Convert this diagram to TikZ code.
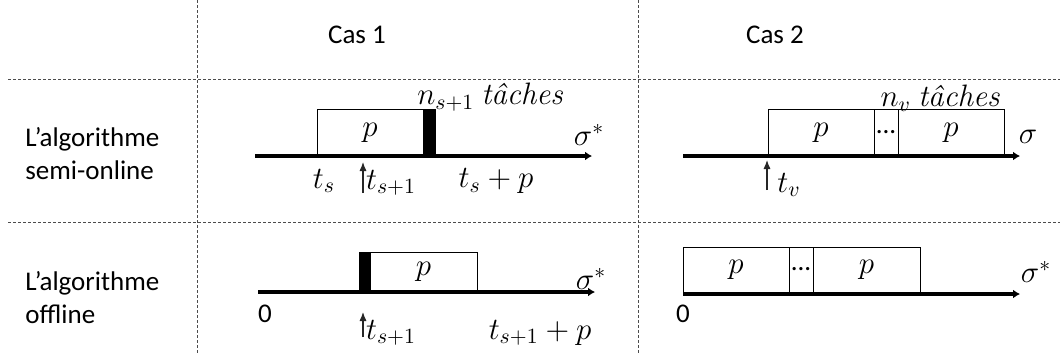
\RequirePackage{fix-cm}
\documentclass[tikz,border=0pt]{standalone}
\usepackage{fontspec}
\setmainfont{Carlito}
\newfontfamily\lmr{Latin Modern Roman}
\usetikzlibrary{arrows.meta}
\newcommand\msz{\fontsize{15.5}{18}\selectfont}
\newcommand\tsz{\fontsize{13.5}{16.5}\selectfont}
\begin{document}
\begin{tikzpicture}[x=0.5pt,y=-0.5pt,
  grid/.style={line width=0.5pt, black!70, dash pattern=on 1.5pt off 1pt},
  axis/.style={line width=2pt, -{Latex[length=3.5pt,width=4.5pt]}},
  upar/.style={line width=0.6pt, black!85, -{Latex[length=4.5pt,width=3.6pt]}},
  box/.style={draw, line width=0.5pt, inner sep=0pt, outer sep=0pt, anchor=south west, font=\msz},
  bar/.style={box, fill=black},
  lbl/.style={inner sep=0pt, font=\msz},
  txt/.style={inner sep=0pt, font=\tsz, align=left, anchor=west}
]
\useasboundingbox (0,0) rectangle (1060,355);

% grid
\coordinate (v1t) at (197,0);   \coordinate (v1b) at (197,355);
\coordinate (v2t) at (638,0);   \coordinate (v2b) at (638,355);
\coordinate (h1l) at (8,79);    \coordinate (h1r) at (1060,79);
\coordinate (h2l) at (8,222);   \coordinate (h2r) at (1060,222);
\draw[grid] (v1t) -- (v1b);
\draw[grid] (v2t) -- (v2b);
\draw[grid] (h1l) -- (h1r);
\draw[grid] (h2l) -- (h2r);

% headers
\node[inner sep=0pt, font=\tsz] (cas1) at (357,35) {Cas 1};
\node[inner sep=0pt, font=\tsz] (cas2) at (775,35) {Cas 2};
\node[txt] (semi) at (25,153.5) {L’algorithme\\semi-online};
\node[txt] (off) at (25,298) {L’algorithme\\offline};

% ---- row 1, case 1
\node[box, minimum width=53pt, minimum height=23.5pt] (p11) at (317,156) {$p$};
\node[bar, minimum width=6pt, minimum height=23.5pt] (k11) at (423,156) {};
\coordinate (a11s) at (255,156); \coordinate (a11e) at (592,156);
\draw[axis] (a11s) -- (a11e);
\node[lbl] (n11) at (490,97) {$n_{s+1}$~{\lmr\itshape tâches}};
\node[lbl] (sg11) at (589,135) {$\sigma^*$};
\node[lbl] (ts11) at (324,181) {$t_s$};
\coordinate (u11s) at (363,193); \coordinate (u11e) at (363,162);
\draw[upar] (u11s) -- (u11e);
\node[lbl] (tsa11) at (391,183) {$t_{s+1}$};
\node[lbl] (tsp11) at (496,181) {$t_s+p$};

% ---- row 1, case 2
\node[box, minimum width=53pt, minimum height=23.5pt] (p12a) at (768,156) {$p$};
\node[box, minimum width=12pt, minimum height=23.5pt, font=\tsz] (d12) at (874,156) {...};
\node[box, minimum width=53pt, minimum height=23.5pt] (p12b) at (898,156) {$p$};
\coordinate (a12s) at (683,156); \coordinate (a12e) at (1020,156);
\draw[axis] (a12s) -- (a12e);
\node[lbl] (n12) at (940,98) {$n_v$~{\lmr\itshape tâches}};
\node[lbl] (sg12) at (1028,137) {$\sigma$};
\coordinate (u12s) at (767,190); \coordinate (u12e) at (767,160);
\draw[upar] (u12s) -- (u12e);
\node[lbl] (tv12) at (789,185) {$t_v$};

% ---- row 2, case 1
\node[bar, minimum width=5.5pt, minimum height=20pt] (k21) at (359,292) {};
\node[box, minimum width=53.5pt, minimum height=20pt] (p21) at (370,292) {$p$};
\coordinate (a21s) at (258,292); \coordinate (a21e) at (595,292);
\draw[axis] (a21s) -- (a21e);
\node[lbl] (sg21) at (591,279) {$\sigma^*$};
\node[inner sep=0pt, font=\tsz] (z21) at (265,314) {0};
\coordinate (u21s) at (363,337); \coordinate (u21e) at (363,312);
\draw[upar] (u21s) -- (u21e);
\node[lbl] (tsa21) at (391,333) {$t_{s+1}$};
\node[lbl] (tsp21) at (540,333) {$t_{s+1}+p$};

% ---- row 2, case 2
\node[box, minimum width=53pt, minimum height=22.5pt] (p22a) at (683,292) {$p$};
\node[box, minimum width=12pt, minimum height=22.5pt, font=\tsz] (d22) at (789,292) {...};
\node[box, minimum width=53.5pt, minimum height=22.5pt] (p22b) at (813,292) {$p$};
\coordinate (a22s) at (683,294); \coordinate (a22e) at (1020,294);
\draw[axis] (a22s) -- (a22e);
\node[lbl] (sg22) at (1036,272) {$\sigma^*$};
\node[inner sep=0pt, font=\tsz] (z22) at (683,314) {0};
\end{tikzpicture}
\end{document}
